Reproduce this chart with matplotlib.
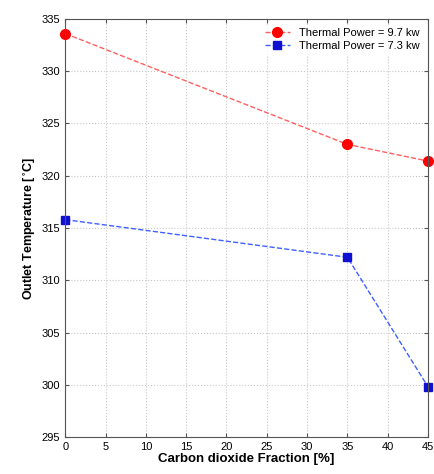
import matplotlib.pyplot as plt

co2_fraction = [0, 35, 45]
temp_9_7kw = [333.6, 323.0, 321.4]
temp_7_3kw = [315.8, 312.2, 299.8]

x_ticks = list(range(0, 50, 5))
y_ticks = list(range(295, 340, 5))

plt.rcParams['font.family'] = ['Liberation Sans', 'DejaVu Sans']

fig = plt.figure(figsize=(4.35, 4.74), dpi=100)
ax = fig.add_axes([0.150, 0.078, 0.834, 0.882])

ax.plot(co2_fraction, temp_9_7kw, '--', color='#ff6060', lw=1.0, clip_on=False,
        marker='o', ms=7, mfc='red', mec='red', label='Thermal Power = 9.7 kw')
ax.plot(co2_fraction, temp_7_3kw, '--', color='#4060ff', lw=1.0, clip_on=False,
        marker='s', ms=6, mfc='#1010d0', mec='#1010d0', label='Thermal Power = 7.3 kw')

ax.set_xlim(0, 45)
ax.set_ylim(295, 335)
ax.set_xticks(x_ticks)
ax.set_yticks(y_ticks)
ax.tick_params(labelsize=8, direction='in', length=3, color='#555555',
               top=True, right=True)
ax.grid(True, linestyle=':', color='#c8c8c8', lw=0.8)
for s in ax.spines.values():
    s.set_color('#555555')

ax.set_xlabel('Carbon dioxide Fraction [%]', fontsize=9.5, fontweight='bold', labelpad=1)
ax.set_ylabel('Outlet Temperature [$^{\\circ}$C]', fontsize=9, fontweight='bold', labelpad=3)

leg = ax.legend(loc='upper right', fontsize=8, frameon=True, fancybox=False,
                edgecolor='white', handlelength=2.2, borderpad=0.3, labelspacing=0.3)

fig.savefig('out.png', dpi=100)
